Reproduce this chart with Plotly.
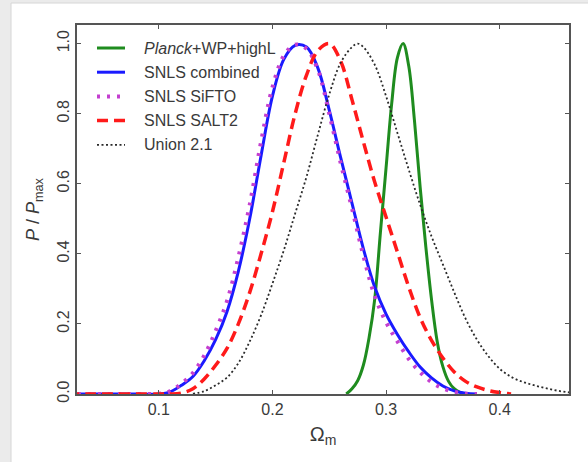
import plotly.graph_objects as go

# Omega_m grid and normalised posteriors P/Pmax for each data set
planck_x = [0.265, 0.27, 0.275, 0.28, 0.285, 0.29, 0.295, 0.30, 0.305, 0.31, 0.315,
            0.32, 0.325, 0.33, 0.335, 0.34, 0.345, 0.35, 0.355, 0.36, 0.365, 0.37]
planck_y = [0.0, 0.015, 0.038, 0.082, 0.16, 0.27, 0.46, 0.645, 0.83, 0.96, 1.0,
            0.935, 0.78, 0.59, 0.42, 0.27, 0.15, 0.078, 0.036, 0.015, 0.005, 0.0]

snls_x = [0.02, 0.04, 0.06, 0.08, 0.10, 0.11, 0.12, 0.13, 0.14, 0.15, 0.16, 0.17, 0.18,
          0.19, 0.20, 0.21, 0.22, 0.23, 0.24, 0.25, 0.26, 0.27, 0.28, 0.29, 0.30,
          0.31, 0.32, 0.33, 0.34, 0.35, 0.36, 0.37, 0.38]
combined_y = [0.0, 0.0, 0.0, 0.0, 0.0, 0.006, 0.025, 0.05, 0.095, 0.155, 0.235, 0.35, 0.50,
              0.68, 0.85, 0.955, 0.995, 0.99, 0.93, 0.81, 0.675, 0.545, 0.415, 0.305, 0.228,
              0.17, 0.12, 0.077, 0.046, 0.023, 0.009, 0.002, 0.0]
sifto_y = [0.0, 0.0, 0.0, 0.0, 0.001, 0.008, 0.03, 0.06, 0.11, 0.18, 0.265, 0.39, 0.54,
           0.72, 0.875, 0.965, 0.997, 0.985, 0.925, 0.80, 0.66, 0.53, 0.395, 0.28, 0.205,
           0.15, 0.10, 0.062, 0.034, 0.016, 0.006, 0.001, 0.0]

salt2_x = [0.02, 0.04, 0.06, 0.08, 0.10, 0.11, 0.12, 0.13, 0.14, 0.15, 0.16, 0.17, 0.18,
           0.19, 0.20, 0.21, 0.22, 0.23, 0.24, 0.25, 0.26, 0.27, 0.28, 0.29, 0.30,
           0.31, 0.32, 0.33, 0.34, 0.35, 0.36, 0.37, 0.38, 0.39, 0.40, 0.41]
salt2_y = [0.0, 0.0, 0.0, 0.0, 0.0, 0.0, 0.003, 0.015, 0.043, 0.082, 0.13, 0.20, 0.29,
           0.40, 0.52, 0.66, 0.80, 0.91, 0.98, 1.0, 0.95, 0.84, 0.72, 0.605, 0.505,
           0.405, 0.305, 0.218, 0.153, 0.103, 0.063, 0.036, 0.02, 0.01, 0.004, 0.0]

union_x = [0.13, 0.14, 0.15, 0.16, 0.17, 0.18, 0.19, 0.20, 0.21, 0.22, 0.23, 0.24, 0.25,
           0.26, 0.27, 0.275, 0.28, 0.29, 0.30, 0.31, 0.32, 0.33, 0.34, 0.35, 0.36,
           0.37, 0.38, 0.39, 0.40, 0.41, 0.42, 0.43, 0.44, 0.45, 0.46, 0.47]
union_y = [0.001, 0.008, 0.025, 0.047, 0.088, 0.15, 0.225, 0.315, 0.41, 0.515, 0.62, 0.74, 0.855,
           0.945, 0.99, 1.0, 0.99, 0.94, 0.85, 0.745, 0.64, 0.54, 0.45, 0.37, 0.29,
           0.215, 0.155, 0.108, 0.072, 0.049, 0.035, 0.025, 0.017, 0.01, 0.005, 0.003]

series_names = ["<i>Planck</i>+WP+highL", "SNLS combined", "SNLS SiFTO",
                "SNLS SALT2", "Union 2.1"]

x_ticks = [0.1, 0.2, 0.3, 0.4]
y_ticks = [0.0, 0.2, 0.4, 0.6, 0.8, 1.0]

FONT = "Liberation Sans, Arial, Helvetica, sans-serif"
AXIS_COLOR = "#555555"
TEXT_COLOR = "#3a3a3a"

line_styles = [
    dict(color="#1f8c1f", width=3),
    dict(color="#1a1aff", width=3),
    dict(color="#c43fd0", width=4, dash="3px,7px"),
    dict(color="#ff1a1a", width=3.5, dash="11px,6px"),
    dict(color="#2a2a2a", width=1.8, dash="2px,2.5px"),
]
curves = [(planck_x, planck_y), (snls_x, combined_y), (snls_x, sifto_y),
          (salt2_x, salt2_y), (union_x, union_y)]

fig = go.Figure()
for name, (xs, ys), style in zip(series_names, curves, line_styles):
    fig.add_trace(go.Scatter(
        x=xs, y=ys, mode="lines", name=name, showlegend=False,
        line=dict(shape="spline", smoothing=1.0, **style),
    ))

# plot area in pixels: left 77, right 569, top 25, bottom 394
W, H = 588, 462
L, R, T, B = 77, 19, 25, 68
pw, ph = W - L - R, H - T - B

def px_x(p):
    return (p - L) / pw

def px_y(p):
    return (H - B - p) / ph

# legend key: short line sample followed by the label, one row per series
row_top, row_step = 48, 24.2
for i, (name, style) in enumerate(zip(series_names, line_styles)):
    yy = px_y(row_top + i * row_step)
    fig.add_shape(type="line", xref="paper", yref="paper",
                  x0=px_x(97), x1=px_x(125), y0=yy, y1=yy, line=style)
    fig.add_annotation(xref="paper", yref="paper", x=px_x(142), y=yy,
                       xanchor="left", yanchor="middle", showarrow=False,
                       text=name, font=dict(family=FONT, size=16, color=TEXT_COLOR))

# light grey window border on the left and top
fig.add_shape(type="rect", xref="paper", yref="paper",
              x0=px_x(0), x1=px_x(11), y0=px_y(H), y1=px_y(0),
              fillcolor="#ebebeb", line=dict(width=0), layer="below")
fig.add_shape(type="rect", xref="paper", yref="paper",
              x0=px_x(0), x1=px_x(W), y0=px_y(3), y1=px_y(0),
              fillcolor="#ebebeb", line=dict(width=0), layer="below")
fig.add_shape(type="line", xref="paper", yref="paper",
              x0=px_x(11), x1=px_x(11), y0=px_y(H), y1=px_y(3),
              line=dict(color="#d6d6d6", width=1))
fig.add_shape(type="line", xref="paper", yref="paper",
              x0=px_x(11), x1=px_x(W), y0=px_y(3), y1=px_y(3),
              line=dict(color="#d6d6d6", width=1))

axis_common = dict(
    showline=True, linecolor=AXIS_COLOR, linewidth=1.6, mirror="ticks",
    ticks="inside", ticklen=4, tickwidth=1, tickcolor=AXIS_COLOR,
    showgrid=False, zeroline=False, tickformat=".1f",
    tickfont=dict(family=FONT, size=16, color=TEXT_COLOR),
)

fig.update_layout(
    width=W, height=H,
    margin=dict(l=L, r=R, t=T, b=B, autoexpand=False),
    paper_bgcolor="white", plot_bgcolor="white",
    font=dict(family=FONT, color=TEXT_COLOR),
    showlegend=False,
    xaxis=dict(range=[0.028, 0.461], tickvals=x_ticks,
               title=dict(text="Ω<sub>m</sub>", standoff=10,
                          font=dict(family=FONT, size=20, color=TEXT_COLOR)),
               **axis_common),
    yaxis=dict(range=[0.0, 1.053], tickvals=y_ticks, tickangle=-90,
               title=dict(text="<i>P</i> / <i>P</i><sub>max</sub>", standoff=10,
                          font=dict(family=FONT, size=18, color=TEXT_COLOR)),
               **axis_common),
)

fig.write_html("out.html")
